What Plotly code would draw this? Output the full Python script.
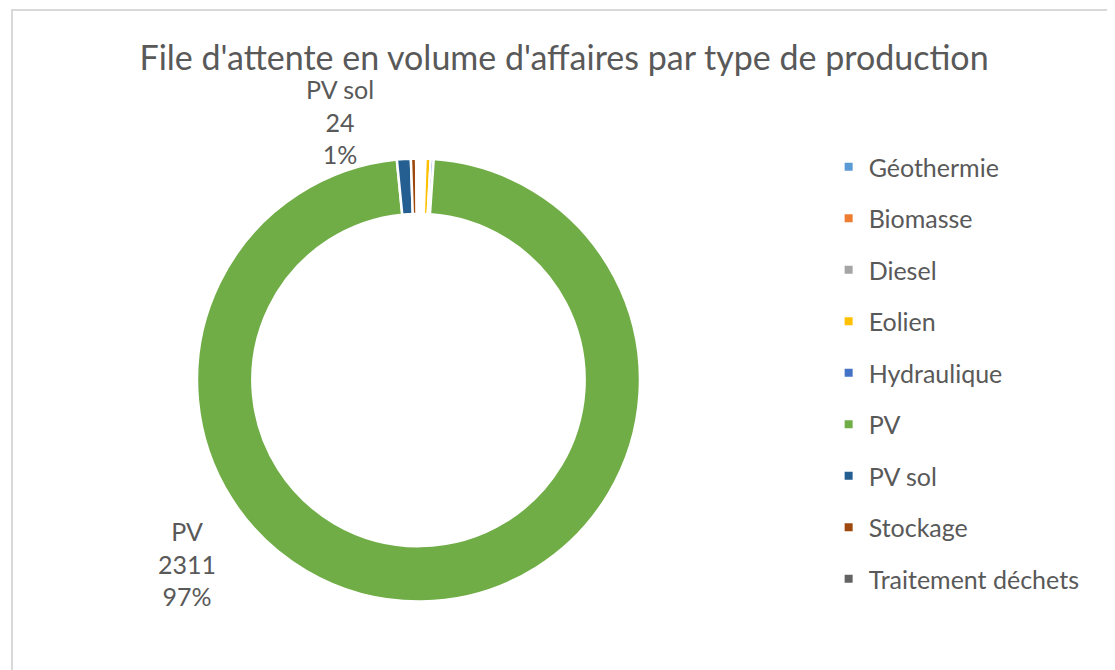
import plotly.graph_objects as go

categories = ["Géothermie", "Biomasse", "Diesel", "Eolien", "Hydraulique",
              "PV", "PV sol", "Stockage", "Traitement déchets"]
values = [4, 4, 4, 9, 5, 2311, 24, 9, 4]
colors = ["#5B9BD5", "#ED7D31", "#A5A5A5", "#FFC000", "#4472C4",
          "#70AD47", "#255E91", "#9E480E", "#636363"]
labeled = {"PV": (0.1605, 0.1716), "PV sol": (0.2978, 0.8299)}

title_text = "File d'attente en volume d'affaires par type de production"
FONT = "Lato, 'Open Sans', sans-serif"
TXT = "#595959"

total = sum(values)

fig = go.Figure()
fig.add_trace(go.Pie(
    labels=categories, values=values, hole=0.75, sort=False,
    direction="clockwise", rotation=0,
    marker=dict(colors=colors, line=dict(color="white", width=2.5)),
    textinfo="none", hoverinfo="label+value+percent", showlegend=False,
    domain=dict(x=[0.1695, 0.5668], y=[0.1119, 0.7776]),
))

# legend entries
for c, col in zip(categories, colors):
    fig.add_trace(go.Scatter(
        x=[None], y=[None], mode="markers", name=c, legendgroup=c,
        marker=dict(symbol="square", size=8, color=col),
        showlegend=True,
    ))

for name, (ax, ay) in labeled.items():
    i = categories.index(name)
    pct = round(100 * values[i] / total)
    fig.add_annotation(
        x=ax, y=ay, xref="paper", yref="paper", showarrow=False,
        text=f"{name}<br>{values[i]}<br>{pct}%", align="center",
        font=dict(family=FONT, size=25, color=TXT), xanchor="center", yanchor="middle",
    )

fig.add_shape(type="rect", xref="paper", yref="paper",
              x0=4/1115, y0=-0.1, x1=1.1, y1=1-2/670,
              line=dict(color="#D9D9D9", width=2), fillcolor="rgba(0,0,0,0)")

fig.update_layout(
    width=1115, height=670,
    margin=dict(l=0, r=0, t=0, b=0),
    paper_bgcolor="white", plot_bgcolor="white",
    title=dict(text=title_text, x=0.4987, xanchor="center", y=1-50/670, yanchor="middle",
               font=dict(family=FONT, size=34, color=TXT)),
    xaxis=dict(visible=False), yaxis=dict(visible=False),
    legend=dict(x=0.736, xanchor="left", y=1-136/670, yanchor="top",
                font=dict(family=FONT, size=25, color=TXT),
                tracegroupgap=16, traceorder="grouped",
                itemwidth=30, bgcolor="rgba(0,0,0,0)"),
    showlegend=True,
)

fig.write_html("out.html")
